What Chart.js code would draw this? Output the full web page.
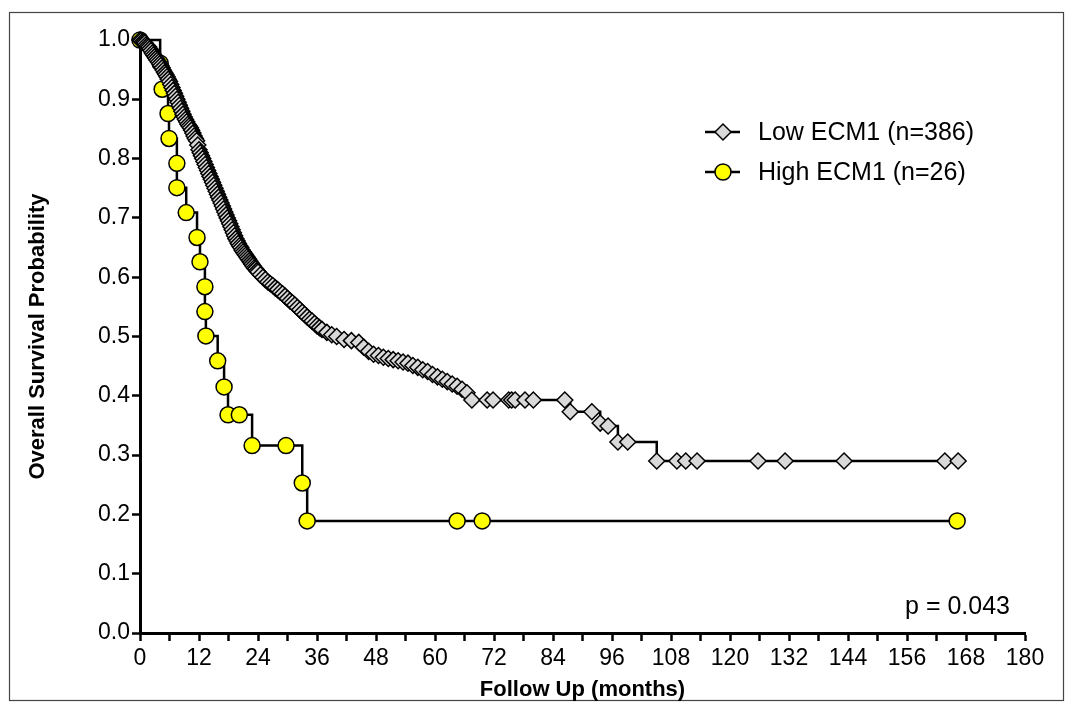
<!DOCTYPE html>
<html lang="en">
<head>
  <meta charset="UTF-8">
  <title>Overall Survival by ECM1</title>
  <script src="https://cdn.jsdelivr.net/npm/chart.js"></script>
  <style>
    html, body { margin: 0; padding: 0; background: #fff; }
    #wrap { width: 1072px; height: 708px; }
  </style>
</head>
<body>
  <div id="wrap"><canvas id="kmChart" width="1072" height="708"></canvas></div>

  <script>
    // Kaplan-Meier curves (months, survival probability)
    const lowLabel = 'Low ECM1 (n=386)';
    const lowMonths = [
      0, 0.25, 0.5, 0.75, 1, 1.25, 1.5, 1.75, 2, 2.25, 2.5, 2.75,
      3, 3.25, 3.5, 3.75, 4, 4.25, 4.5, 4.75, 5, 5.25, 5.5, 5.75,
      6, 6.25, 6.5, 6.75, 7, 7.25, 7.5, 7.75, 8, 8.25, 8.5, 8.75,
      9, 9.25, 9.5, 9.75, 10, 10.25, 10.5, 10.75, 11, 11.25, 11.5, 11.75,
      12, 12.25, 12.5, 12.75, 13, 13.25, 13.5, 13.75, 14, 14.25, 14.5, 14.75,
      15, 15.25, 15.5, 15.75, 16, 16.25, 16.5, 16.75, 17, 17.25, 17.5, 17.75,
      18, 18.25, 18.5, 18.75, 19, 19.25, 19.5, 19.75, 20, 20.25, 20.5, 20.75,
      21, 21.25, 21.5, 21.75, 22, 22.25, 22.5, 22.75, 23, 23.25, 23.5, 23.75,
      24, 24.5, 25, 25.5, 26, 26.5, 27, 27.5, 28, 28.5, 29, 29.5,
      30, 30.5, 31, 31.5, 32, 32.5, 33, 33.5, 34, 34.5, 35, 35.5,
      36, 36.5, 37, 38, 39, 40, 41.5, 43, 44.5, 45.5, 46.5, 47.5,
      48.5, 49.5, 50.5, 51.5, 52.5, 53.5, 54.5, 55.5, 56.5, 57.5, 58.5, 59.5,
      60.5, 61.5, 62.5, 63.5, 64.5, 65.5, 66.5, 67.5,
      70.6, 71.8, 75.0, 75.6, 76.3, 78.3, 80.0, 86.4, 87.5, 91.9, 93.6, 95.2, 97.2, 99.2,
      105.1, 109.2, 111.0, 113.3, 125.7, 131.2, 143.2, 163.7, 166.4];
    const lowSurv = [
      1.0, 0.999, 0.997, 0.996, 0.995, 0.992, 0.99, 0.988, 0.985, 0.982, 0.978, 0.975,
      0.972, 0.969, 0.966, 0.963, 0.96, 0.957, 0.953, 0.949, 0.945, 0.942, 0.938, 0.934,
      0.93, 0.925, 0.92, 0.915, 0.91, 0.905, 0.9, 0.895, 0.89, 0.885, 0.88, 0.875,
      0.87, 0.866, 0.862, 0.858, 0.855, 0.852, 0.848, 0.843, 0.838, 0.834, 0.83, 0.823,
      0.815, 0.81, 0.805, 0.8, 0.795, 0.79, 0.785, 0.78, 0.775, 0.77, 0.765, 0.76,
      0.755, 0.75, 0.745, 0.74, 0.735, 0.73, 0.725, 0.72, 0.715, 0.71, 0.705, 0.7,
      0.695, 0.69, 0.685, 0.68, 0.675, 0.67, 0.665, 0.661, 0.657, 0.653, 0.65, 0.646,
      0.643, 0.64, 0.637, 0.634, 0.631, 0.628, 0.625, 0.622, 0.619, 0.616, 0.614, 0.611,
      0.609, 0.604, 0.6, 0.596, 0.592, 0.589, 0.586, 0.582, 0.579, 0.575, 0.572, 0.568,
      0.564, 0.56, 0.557, 0.553, 0.549, 0.545, 0.541, 0.537, 0.533, 0.529, 0.526, 0.522,
      0.518, 0.515, 0.512, 0.507, 0.503, 0.5, 0.495, 0.493, 0.49, 0.482, 0.475, 0.47,
      0.468, 0.465, 0.463, 0.461, 0.459, 0.457, 0.455, 0.451, 0.448, 0.444, 0.441, 0.436,
      0.432, 0.428, 0.424, 0.42, 0.416, 0.411, 0.405, 0.393,
      0.393, 0.393, 0.393, 0.393, 0.393, 0.393, 0.393, 0.393, 0.373, 0.373, 0.354, 0.349, 0.322, 0.322,
      0.29, 0.29, 0.29, 0.29, 0.29, 0.29, 0.29, 0.29, 0.29];

    const highLabel = 'High ECM1 (n=26)';
    const highMonths = [0, 4.1, 4.5, 5.7, 5.9, 7.5, 7.5, 9.4, 11.6, 12.2, 13.2, 13.2, 13.4, 15.8, 17.1, 17.9, 20.2,
      22.8, 29.7, 33.0, 34.0, 64.5, 69.6, 166.2];
    const highSurv = [1.0, 0.961, 0.917, 0.876, 0.834, 0.792, 0.751, 0.709, 0.667, 0.626, 0.584, 0.542, 0.501, 0.459, 0.415, 0.368, 0.368,
      0.316, 0.316, 0.253, 0.189, 0.189, 0.189, 0.189];

    const xTicks = [0, 12, 24, 36, 48, 60, 72, 84, 96, 108, 120, 132, 144, 156, 168, 180];
    const yTicks = [0.0, 0.1, 0.2, 0.3, 0.4, 0.5, 0.6, 0.7, 0.8, 0.9, 1.0];
    const pText = 'p = 0.043';

    const FONT = '"Liberation Sans", Arial, Helvetica, sans-serif';

    function toPoints(xs, ys) {
      return xs.map((x, i) => ({ x: x, y: ys[i] }));
    }

    // frame around the whole figure
    const framePlugin = {
      id: 'frame',
      beforeDraw(chart) {
        const ctx = chart.ctx;
        ctx.save();
        ctx.fillStyle = '#fff';
        ctx.fillRect(0, 0, chart.width, chart.height);
        ctx.strokeStyle = '#444';
        ctx.lineWidth = 1.2;
        ctx.strokeRect(9.5, 12.5, 1054, 688);
        ctx.restore();
      }
    };

    // legend with line + marker, and the p value
    const notesPlugin = {
      id: 'notes',
      afterDraw(chart) {
        const ctx = chart.ctx;
        ctx.save();
        chart.data.datasets.forEach((ds, i) => {
          const y = 132 + i * 40;
          ctx.strokeStyle = '#000';
          ctx.lineWidth = 2.5;
          ctx.beginPath();
          ctx.moveTo(705, y);
          ctx.lineTo(740, y);
          ctx.stroke();
          ctx.fillStyle = ds.pointBackgroundColor;
          ctx.strokeStyle = '#000';
          ctx.lineWidth = ds.pointBorderWidth;
          Chart.helpers.drawPoint(ctx, {
            pointStyle: ds.pointStyle, radius: ds.pointRadius, rotation: 0, borderWidth: ds.pointBorderWidth
          }, 723, y);
          ctx.fillStyle = '#000';
          ctx.font = '25px ' + FONT;
          ctx.textBaseline = 'middle';
          ctx.textAlign = 'left';
          ctx.fillText(ds.label, 758, y + 1);
        });
        ctx.font = '25px ' + FONT;
        ctx.textAlign = 'right';
        ctx.textBaseline = 'middle';
        ctx.fillStyle = '#000';
        ctx.fillText(pText, 1010, 607);
        ctx.restore();
      }
    };

    const ctx = document.getElementById('kmChart').getContext('2d');
    new Chart(ctx, {
      type: 'line',
      data: {
        datasets: [{
          label: lowLabel,
          data: toPoints(lowMonths, lowSurv),
          stepped: true,
          borderColor: '#000',
          borderWidth: 2.5,
          pointStyle: 'rectRot',
          pointRadius: 8,
          pointBackgroundColor: '#d9d9d9',
          pointBorderColor: '#000',
          pointBorderWidth: 1.5,
          clip: false
        }, {
          label: highLabel,
          data: toPoints(highMonths, highSurv),
          stepped: true,
          borderColor: '#000',
          borderWidth: 2.5,
          pointStyle: 'circle',
          pointRadius: 8,
          pointBackgroundColor: '#ffff00',
          pointBorderColor: '#000',
          pointBorderWidth: 1.5,
          clip: false
        }]
      },
      options: {
        responsive: false,
        animation: false,
        layout: { padding: { left: 0, right: 47, top: 40, bottom: 0 } },
        plugins: {
          legend: { display: false },
          tooltip: { enabled: false }
        },
        scales: {
          x: {
            type: 'linear',
            min: 0,
            max: 180,
            afterFit(scale) { scale.height = 75; },
            afterBuildTicks(scale) {
              const t = [];
              xTicks.forEach((v, i) => {
                t.push({ value: v });
                if (i < xTicks.length - 1) t.push({ value: v + 6 });
              });
              scale.ticks = t;
            },
            ticks: {
              autoSkip: false,
              maxRotation: 0,
              padding: 6,
              color: '#000',
              font: { family: FONT, size: 23, lineHeight: 1 },
              callback: (v) => (xTicks.includes(v) ? String(v) : '')
            },
            grid: {
              drawOnChartArea: false,
              drawTicks: true,
              tickLength: 8,
              tickColor: '#000',
              tickWidth: 2.5
            },
            border: { display: true, color: '#000', width: 3 },
            title: {
              display: true,
              text: 'Follow Up (months)',
              color: '#000',
              font: { family: FONT, size: 22, weight: 'bold' },
              padding: { top: 0, bottom: 5 }
            }
          },
          y: {
            type: 'linear',
            min: 0,
            max: 1,
            afterFit(scale) { scale.width = 140; },
            afterBuildTicks(scale) {
              scale.ticks = yTicks.map(v => ({ value: v }));
            },
            ticks: {
              padding: 2,
              color: '#000',
              font: { family: FONT, size: 23 },
              callback: (v) => Number(v).toFixed(1)
            },
            grid: {
              drawOnChartArea: false,
              drawTicks: true,
              tickLength: 8,
              tickColor: '#000',
              tickWidth: 2.5
            },
            border: { display: true, color: '#000', width: 3 },
            title: {
              display: true,
              text: 'Overall Survival Probability',
              color: '#000',
              font: { family: FONT, size: 22, weight: 'bold' },
              padding: { top: 25, bottom: 0 }
            }
          }
        }
      },
      plugins: [framePlugin, notesPlugin]
    });
  </script>
</body>
</html>
